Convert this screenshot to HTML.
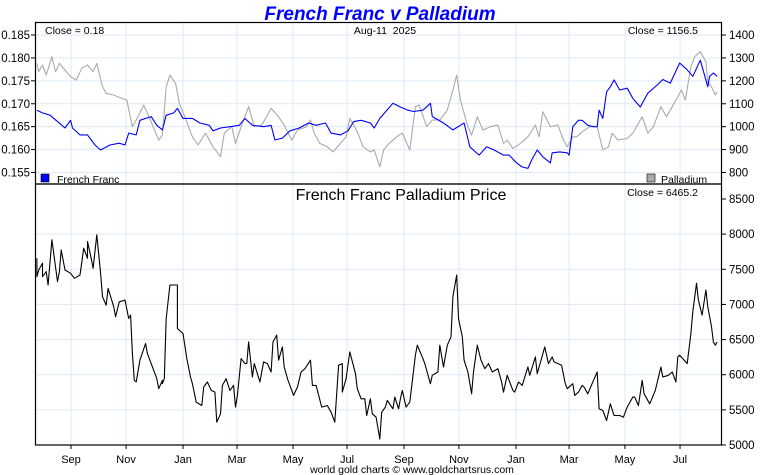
<!DOCTYPE html>
<html><head><meta charset="utf-8"><style>
html,body{margin:0;padding:0;background:#fff;}
svg{display:block;font-family:"Liberation Sans",sans-serif;}
</style></head><body>
<svg id="chart" width="760" height="475" viewBox="0 0 760 475" xmlns="http://www.w3.org/2000/svg">
<text x="380" y="20" text-anchor="middle" font-size="19" font-weight="bold" font-style="italic" fill="#0000ff">French Franc v Palladium</text>
<g id="grid"></g>
<g id="series"></g>
<rect x="35.5" y="22.5" width="686" height="161.5" fill="none" stroke="#000" stroke-width="1.2"/>
<rect x="35.5" y="184" width="686" height="261" fill="none" stroke="#000" stroke-width="1.2"/>
<g id="axes" font-size="11.5" fill="#000"></g>
<text x="45" y="34" font-size="10.5">Close = 0.18</text>
<text x="385" y="34" font-size="10.5" text-anchor="middle">Aug-11&#160; 2025</text>
<text x="698" y="34" font-size="10.5" text-anchor="end">Close = 1156.5</text>
<rect x="41" y="174" width="8" height="8" fill="#0000ff" stroke="#000" stroke-width="0.6"/>
<text x="57" y="183" font-size="10.5">French Franc</text>
<rect x="647" y="174" width="8" height="8" fill="#aaa" stroke="#000" stroke-width="0.6"/>
<text x="661" y="183" font-size="10.5">Palladium</text>
<text x="401" y="200" font-size="16" text-anchor="middle">French Franc Palladium Price</text>
<text x="698" y="196" font-size="10.5" text-anchor="end">Close = 6465.2</text>
<text x="412" y="473" font-size="10.5" text-anchor="middle">world gold charts © www.goldchartsrus.com</text>
</svg>
<script>
const monthLabels=["Sep","Nov","Jan","Mar","May","Jul","Sep","Nov","Jan","Mar","May","Jul"];
const monthT=[19.2,48.6,79,107.8,137.7,166.5,196.9,226.2,256.7,285,314.8,344.2];
const ffTicks=[0.155,0.160,0.165,0.170,0.175,0.180,0.185];
const pdTicks=[800,900,1000,1100,1200,1300,1400];
const priceTicks=[5000,5500,6000,6500,7000,7500,8000,8500];
const ffT=[1,4,8,12,16,19,20,24,28,32,35,40,45,48,50,54,56,62,65,68,70,74,76,79,84,88,93,95,99,104,109,112,116,122,126,128,132,136,141,146,150,155,158,163,167,170,174,179,181,184,191,195,199,202,207,211,212,218,223,227,229,232,237,241,245,250,253,257,260,263,265,268,271,275,276,280,284,285,287,290,292,295,298,300,301,303,305,307,309,312,316,319,323,327,332,335,339,344,348,351,355,359,360,362,364];
const ffV=[.1686,.1680,.1675,.1661,.1647,.1664,.1647,.1632,.1632,.1610,.1599,.1610,.1614,.1610,.1636,.1632,.1664,.1672,.1653,.1643,.1675,.1680,.1690,.1668,.1668,.1658,.1653,.1641,.1647,.1650,.1653,.1668,.1653,.1650,.1653,.1621,.1625,.1641,.1647,.1658,.1653,.1658,.1636,.1632,.1641,.1661,.1664,.1658,.1647,.1668,.1701,.1693,.1686,.1683,.1686,.1701,.1672,.1658,.1643,.1653,.1658,.1606,.1588,.1606,.1599,.1588,.1588,.1571,.1562,.1559,.1577,.1599,.1584,.1571,.1593,.1595,.1593,.1588,.1650,.1664,.1664,.1653,.1650,.1650,.1686,.1668,.1726,.1737,.1752,.1730,.1734,.1712,.1693,.1723,.1741,.1753,.1745,.1789,.1774,.1760,.1795,.1737,.1760,.1767,.1760];
const pdT=[1,2,4,6,9,11,13,16,19,22,25,28,31,33,36,38,42,44,49,52,54,58,60,63,66,68,70,72,75,77,80,84,87,91,95,99,101,105,107,110,114,117,121,124,126,130,133,137,140,145,147,149,152,156,159,163,166,168,172,175,179,181,184,186,189,193,196,200,203,205,209,212,216,220,223,225,227,231,233,236,239,243,247,250,252,255,259,263,267,269,271,275,279,282,284,287,289,292,296,300,303,306,308,311,316,319,324,327,330,334,337,342,345,347,350,352,355,358,359,361,363,364];
const pdV=[1276,1240,1269,1225,1305,1240,1276,1247,1218,1203,1255,1269,1240,1276,1174,1145,1138,1131,1116,1000,1029,1094,1059,1000,942,963,1174,1225,1189,1101,1043,956,920,972,912,869,972,1000,927,1000,1087,1000,1007,1051,1080,1043,1007,942,985,1000,1029,972,927,912,890,927,956,1036,978,912,890,898,825,898,927,956,972,898,1087,1094,1000,1029,1029,1072,1160,1225,1116,1000,963,1043,985,1000,1007,927,942,905,927,956,1007,956,1065,1000,1007,942,912,956,956,978,1000,1000,898,912,972,942,949,972,1043,972,1000,1087,1043,1116,1160,1116,1262,1305,1327,1283,1196,1174,1138,1152];
const prT=[1,1,2,4,4,6,7,9,10,12,13,14,16,19,21,24,26,28,28,30,31,33,35,36,38,39,42,43,45,48,50,51,52,53,54,56,59,60,62,65,66,68,68,69,70,72,74,76,76,79,81,83,84,86,89,90,92,94,96,97,99,100,102,104,106,107,108,110,112,113,114,116,117,120,122,124,126,127,129,130,132,133,135,138,140,142,144,147,148,150,153,156,158,160,162,164,164,166,168,171,172,174,176,177,179,180,182,184,185,187,188,191,192,194,195,196,198,200,203,204,207,208,211,212,215,216,218,220,222,223,225,226,228,229,231,233,234,236,238,240,242,244,247,249,250,252,255,256,258,260,263,264,267,268,271,272,274,276,277,281,283,284,287,288,290,292,293,295,298,300,301,303,305,307,309,312,314,316,319,320,322,324,325,328,331,334,335,338,340,342,343,344,348,350,351,353,354,356,358,359,361,362,363,364];
const prV=[7657,7395,7490,7586,7395,7467,7276,7919,7729,7324,7467,7776,7490,7443,7372,7419,7800,7657,7895,7657,7514,7990,7443,7110,6991,7229,6967,6824,7038,7062,6800,6848,6300,5920,5896,6206,6444,6300,6158,5944,5801,5920,5872,5944,6800,7276,7276,7276,6658,6586,6229,5967,5872,5610,5562,5824,5896,5777,5753,5325,5444,5848,5944,5777,5848,5539,5706,6229,6158,6158,6467,5967,6158,5896,6182,6158,6039,6467,6563,6206,6396,6110,5920,5706,5824,6039,6086,6206,5848,5848,5539,5562,5467,5325,6134,6158,5753,5944,6324,6015,5801,5658,5658,5420,5658,5444,5396,5086,5467,5539,5634,5515,5682,5515,5658,5777,5539,5610,6277,6420,6229,6158,5872,5991,6039,6420,6110,6420,6539,7110,7419,6800,6539,6206,6039,5729,6039,6420,6206,6086,6158,6039,6086,5896,5753,5991,5777,5753,5896,5848,6110,5991,6253,6015,6300,6396,6158,6253,6182,6134,5872,5801,5872,5706,5753,5848,5824,5729,5920,6039,5515,5491,5348,5586,5420,5420,5396,5539,5682,5682,5562,5920,5729,5586,5777,6110,5967,5991,6039,5896,6253,6277,6158,6586,6895,7300,7062,6848,7205,6967,6682,6467,6420,6467];

const NS="http://www.w3.org/2000/svg";
function mk(tag,attrs,parent){const e=document.createElementNS(NS,tag);for(const k in attrs)e.setAttribute(k,attrs[k]);parent.appendChild(e);return e;}
const xS=t=>35+t*1.874;
const yFF=v=>35+(0.185-v)/0.030*137.5;
const yPD=v=>35+(1400-v)/600*137.5;
const yPR=v=>199+(8500-v)/3500*246;
const grid=document.getElementById('grid'),series=document.getElementById('series'),axes=document.getElementById('axes');
const gc="#ddeaf6";
monthT.forEach((t,i)=>{
  const x=xS(t);
  const g=mk('line',{x1:x,x2:x,y1:23,y2:445,stroke:gc,'stroke-width':1},grid);
  
  
  const tk=mk('line',{x1:x,x2:x,y1:445,y2:449,stroke:'#000'},axes);
  
  
  const l=mk('text',{x:x,y:463,'text-anchor':'middle','font-size':11},axes);
  l.textContent=monthLabels[i];
  
  
});
ffTicks.forEach(v=>{
  const y=yFF(v);
  const g=mk('line',{x1:35,x2:722,y1:y,y2:y,stroke:gc},grid);
  
  
  mk('line',{x1:31,x2:35,y1:y,y2:y,stroke:'#000'},axes);
  const l=mk('text',{x:30,y:y+4,'text-anchor':'end'},axes);
  l.textContent=v.toFixed(3);
  
  
});
pdTicks.forEach(v=>{
  const y=yPD(v);
  mk('line',{x1:722,x2:726,y1:y,y2:y,stroke:'#000'},axes);
  const l=mk('text',{x:729,y:y+4},axes);
  l.textContent=v;
  
  
});
priceTicks.forEach(v=>{
  const y=yPR(v);
  if(v>5000&&v<8500){const g=mk('line',{x1:35,x2:722,y1:y,y2:y,stroke:gc},grid);
  
  }
  mk('line',{x1:722,x2:726,y1:y,y2:y,stroke:'#000'},axes);
  const l=mk('text',{x:729,y:y+4},axes);
  l.textContent=v;
  
  
});
function line(T,V,yf,color,name){
  const d=T.map((t,i)=>(i?'L':'M')+xS(t).toFixed(1)+','+yf(V[i]).toFixed(1)).join('');
  const p=mk('path',{d:d,fill:'none',stroke:color,'stroke-width':1.1,'stroke-linejoin':'round'},series);
  
  
}
line(pdT,pdV,yPD,'#aaaaaa','palladium-line');
line(ffT,ffV,yFF,'#0000ff','french-franc-line');
line(prT,prV,yPR,'#000000','price-line');
</script>
</body></html>
